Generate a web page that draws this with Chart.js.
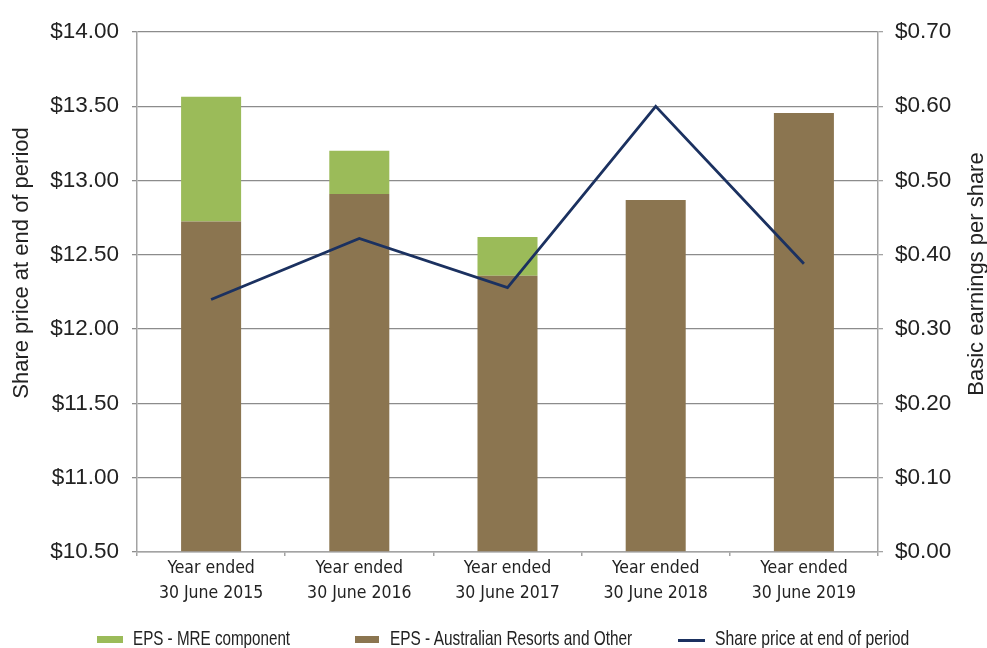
<!DOCTYPE html>
<html>
<head>
<meta charset="utf-8">
<script src="https://cdn.jsdelivr.net/npm/chart.js@4.4.1/dist/chart.umd.min.js"></script>
<style>
  html, body { margin: 0; padding: 0; background: #fff; }
  #wrap { position: relative; width: 987px; height: 648px; overflow: hidden; }
  #c { position: absolute; left: 0; top: 0; }
  .lg { position: absolute; top: 628px; font-family: "Liberation Sans", Arial, sans-serif; font-size: 21px; line-height: 20px; color: #222; white-space: nowrap; transform-origin: 0 0; }
  .sw { position: absolute; }
</style>
</head>
<body>
<div id="wrap">
  <canvas id="c" width="987" height="648"></canvas>
  <div class="sw" style="left:97px;top:636px;width:26px;height:7px;background:#9BBB59"></div>
  <div class="lg" id="lg0" style="left:133px" data-w="157"></div>
  <div class="sw" style="left:355px;top:636px;width:24px;height:7px;background:#8B7550"></div>
  <div class="lg" id="lg1" style="left:390px" data-w="242"></div>
  <div class="sw" style="left:678px;top:639px;width:27px;height:3px;background:#1B3160"></div>
  <div class="lg" id="lg2" style="left:715px" data-w="194"></div>
</div>
<script>
const categories = [
  ['Year ended', '30 June 2015'],
  ['Year ended', '30 June 2016'],
  ['Year ended', '30 June 2017'],
  ['Year ended', '30 June 2018'],
  ['Year ended', '30 June 2019']
];
const epsAustralianResorts = [0.445, 0.482, 0.372, 0.474, 0.591];
const epsMRE = [0.168, 0.058, 0.052, 0, 0];
const sharePrice = [12.20, 12.61, 12.28, 13.50, 12.44];

const seriesNames = ['EPS - MRE component', 'EPS - Australian Resorts and Other', 'Share price at end of period'];
const leftAxisTitle = 'Share price at end of period';
const rightAxisTitle = 'Basic earnings per share';

// legend text (HTML), condensed horizontally to match the reference's narrow face
['lg0', 'lg1', 'lg2'].forEach((id, i) => {
  const el = document.getElementById(id);
  el.textContent = seriesNames[i];
  const target = Number(el.dataset.w);
  el.style.transform = 'scaleX(' + (target / el.offsetWidth) + ')';
});

const tickFont = { family: '"Liberation Sans", Arial, sans-serif', size: 22.5 };
const catFont = { family: '"DejaVu Sans Condensed", "Liberation Sans", sans-serif', size: 17.5, lineHeight: '25px' };
const titleFontStr = '22px "Liberation Sans", Arial, sans-serif';
const gridGrey = '#8c8c8c';
const borderGrey = '#a3a3a3';

const axisTitles = {
  id: 'axisTitles',
  afterDraw(chart) {
    const ctx = chart.ctx;
    const yL = chart.scales.y, yR = chart.scales.y1;
    ctx.save();
    ctx.font = titleFontStr;
    ctx.fillStyle = '#222';
    ctx.textAlign = 'center';
    ctx.textBaseline = 'middle';
    ctx.save();
    ctx.translate(yL.left + 22, (yL.top + yL.bottom) / 2 - 29);
    ctx.rotate(-Math.PI / 2);
    ctx.fillText(leftAxisTitle, 0, 0);
    ctx.restore();
    ctx.save();
    ctx.translate(yR.right - 10, (yR.top + yR.bottom) / 2 - 18);
    ctx.rotate(-Math.PI / 2);
    ctx.fillText(rightAxisTitle, 0, 0);
    ctx.restore();
    ctx.restore();
  }
};

new Chart(document.getElementById('c'), {
  data: {
    labels: categories,
    datasets: [
      {
        type: 'line', label: seriesNames[2], data: sharePrice, yAxisID: 'y',
        borderColor: '#1B3160', borderWidth: 2.8, pointRadius: 0, tension: 0, order: 0
      },
      {
        type: 'bar', label: seriesNames[1], data: epsAustralianResorts, yAxisID: 'y1',
        backgroundColor: '#8B7550', barPercentage: 0.405, categoryPercentage: 1, order: 1
      },
      {
        type: 'bar', label: seriesNames[0], data: epsMRE, yAxisID: 'y1',
        backgroundColor: '#9BBB59', barPercentage: 0.405, categoryPercentage: 1, order: 1
      }
    ]
  },
  plugins: [axisTitles],
  options: {
    responsive: false,
    animation: false,
    layout: { padding: { top: 32, bottom: 0, left: 0, right: 0 } },
    plugins: { legend: { display: false }, tooltip: { enabled: false } },
    scales: {
      x: {
        stacked: true,
        grid: { display: true, drawOnChartArea: false, drawTicks: true, tickLength: 4, color: borderGrey, lineWidth: 1.5, offset: true },
        border: { color: borderGrey, width: 1.5 },
        ticks: { font: catFont, color: '#222', padding: 0, maxRotation: 0, autoSkip: false },
        afterFit: s => { s.height = 96; }
      },
      y: {
        position: 'left',
        min: 10.5, max: 14,
        ticks: { stepSize: 0.5, font: tickFont, color: '#222', padding: 13, callback: v => '$' + Number(v).toFixed(2) },
        grid: { color: gridGrey, lineWidth: 1.3, tickLength: 5 },
        border: { color: borderGrey, width: 1.5 },
        afterFit: s => { s.width = 137; }
      },
      y1: {
        position: 'right',
        stacked: true,
        min: 0, max: 0.7,
        ticks: { stepSize: 0.1, font: tickFont, color: '#222', padding: 12, callback: v => '$' + Number(v).toFixed(2) },
        grid: { drawOnChartArea: false, color: borderGrey, lineWidth: 1.3, tickLength: 5 },
        border: { color: borderGrey, width: 1.5 },
        afterFit: s => { s.width = 109; }
      }
    }
  }
});
</script>
</body>
</html>
